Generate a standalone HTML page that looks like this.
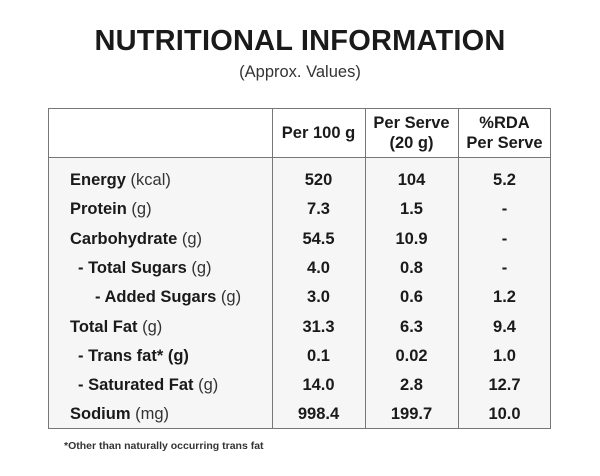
<!DOCTYPE html>
<html><head><style>
body{margin:0;width:600px;height:476px;background:#fff;font-family:"Liberation Sans",sans-serif;color:#1a1a1a;position:relative;overflow:hidden}
.t{position:absolute;left:0;width:600px;text-align:center}
.box{position:absolute;left:48px;top:108px;width:503px;height:321px;border:1.5px solid #777;background:#f6f6f6;box-sizing:border-box}
.hdr{position:absolute;left:0;top:0;width:100%;height:49px;background:#fff;border-bottom:1.5px solid #777;box-sizing:border-box}
.v{position:absolute;top:0;height:100%;border-left:1.5px solid #777}
.c{position:absolute;text-align:center;font-weight:bold;font-size:16.5px;white-space:nowrap}
.l{position:absolute;font-weight:bold;font-size:16.5px;white-space:nowrap}
.l span{font-weight:normal;color:#333}
</style></head><body>
<div class="t" style="top:25px;font-size:29px;font-weight:bold;letter-spacing:0.2px">NUTRITIONAL INFORMATION</div>
<div class="t" style="top:63px;font-size:16.5px;color:#333">(Approx. Values)</div>
<div class="box"><div class="hdr"></div>
<div class="v" style="left:223px"></div><div class="v" style="left:316px"></div><div class="v" style="left:409px"></div>
</div>
<div class="c" style="left:272px;width:93px;top:124px">Per 100 g</div>
<div class="c" style="left:365px;width:93px;top:113px;line-height:20px">Per Serve<br>(20 g)</div>
<div class="c" style="left:458px;width:93px;top:113px;line-height:20px">%RDA<br>Per Serve</div>
<div id="rows"></div>
<script>
var r=[["Energy"," (kcal)","520","104","5.2",70],["Protein"," (g)","7.3","1.5","-",70],["Carbohydrate"," (g)","54.5","10.9","-",70],["- Total Sugars"," (g)","4.0","0.8","-",78],["- Added Sugars"," (g)","3.0","0.6","1.2",95],["Total Fat"," (g)","31.3","6.3","9.4",70],["- Trans fat* (g)","","0.1","0.02","1.0",78],["- Saturated Fat"," (g)","14.0","2.8","12.7",78],["Sodium"," (mg)","998.4","199.7","10.0",70]];
var h="";r.forEach(function(a,i){var y=171+i*29.3;
h+='<div class="l" style="left:'+a[5]+'px;top:'+y+'px">'+a[0]+'<span>'+a[1]+'</span></div>';
h+='<div class="c" style="left:272px;width:93px;top:'+y+'px">'+a[2]+'</div><div class="c" style="left:365px;width:93px;top:'+y+'px">'+a[3]+'</div><div class="c" style="left:458px;width:93px;top:'+y+'px">'+a[4]+'</div>';});
document.getElementById("rows").innerHTML=h;
</script>
<div style="position:absolute;left:64px;top:440px;font-size:10.5px;font-weight:bold;color:#333">*Other than naturally occurring trans fat</div>
</body></html>
